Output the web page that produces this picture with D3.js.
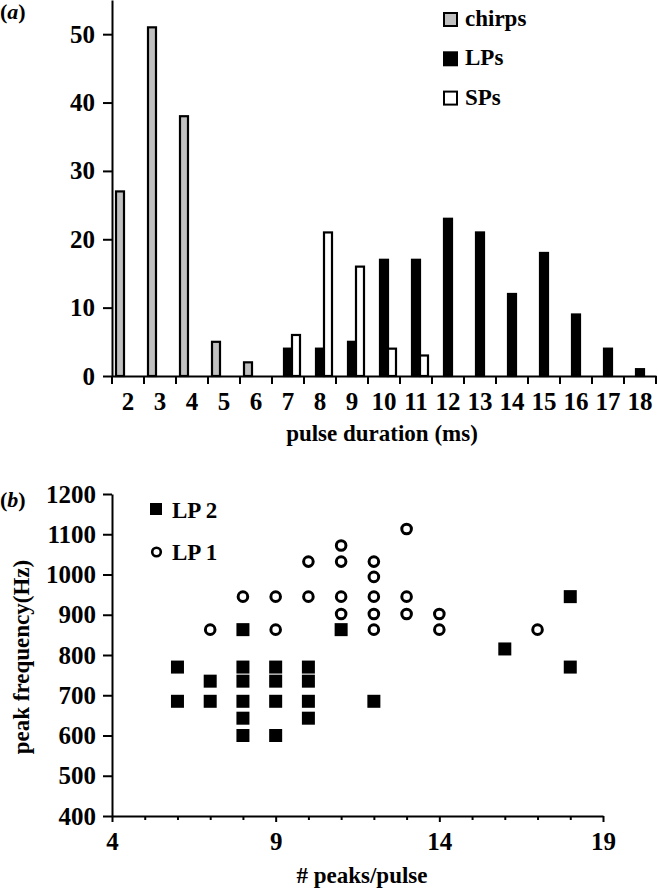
<!DOCTYPE html>
<html>
<head>
<meta charset="utf-8">
<script src="https://cdn.jsdelivr.net/npm/d3@7"></script>
<style>
  html, body { margin: 0; padding: 0; background: #fff; }
  svg text { font-family: "Liberation Serif", "Times New Roman", serif; font-weight: bold; fill: #000; }
  .axis path, .axis line { stroke: #000; stroke-width: 2; }
</style>
</head>
<body>
<script>
// panel (a): pulse duration histogram
const durations = [2, 3, 4, 5, 6, 7, 8, 9, 10, 11, 12, 13, 14, 15, 16, 17, 18];
const chirps = [27, 51, 38, 5, 2, 0, 0, 0, 0, 0, 0, 0, 0, 0, 0, 0, 0];
const lps = [0, 0, 0, 0, 0, 4, 4, 5, 17, 17, 23, 21, 12, 18, 9, 4, 1];
const sps = [0, 0, 0, 0, 0, 6, 21, 16, 4, 3, 0, 0, 0, 0, 0, 0, 0];
const countTicks = [0, 10, 20, 30, 40, 50];

// panel (b): peak frequency vs number of peaks
const lp2Peaks = [6, 6, 7, 7, 8, 8, 8, 8, 8, 8, 9, 9, 9, 9, 10, 10, 10, 10, 11, 12, 16, 18, 18];
const lp2Freq = [770, 685, 735, 685, 863, 770, 735, 685, 643, 600, 770, 735, 685, 600, 770, 735, 685, 643, 863, 685, 815, 945, 770];
const lp1Peaks = [7, 8, 9, 9, 10, 10, 11, 11, 11, 11, 12, 12, 12, 12, 12, 13, 13, 13, 14, 14, 17];
const lp1Freq = [863, 945, 945, 863, 945, 1032, 1072, 1032, 945, 902, 1032, 994, 945, 902, 863, 1113, 945, 902, 902, 863, 863];
const freqTicks = [400, 500, 600, 700, 800, 900, 1000, 1100, 1200];
const peakLabels = [4, 9, 14, 19];

const W = 658;
const H = 892;
const FS = 23; // titles and legend
const TS = 25; // tick labels

const svg = d3.select('body').append('svg')
  .attr('width', W)
  .attr('height', H);

// ---------- (a) ----------
const series = [
  { key: 'chirps', values: chirps, fill: '#c0c0c0' },
  { key: 'LPs', values: lps, fill: '#000' },
  { key: 'SPs', values: sps, fill: '#fff' },
];

const x0 = d3.scaleBand().domain(durations).range([112, 656]);
const x1 = d3.scaleBand().domain(series.map((s) => s.key))
  .range([0, x0.bandwidth()])
  .paddingInner(0)
  .paddingOuter(0.5);
const yA = d3.scaleLinear().domain([0, 55]).range([376, 0]);

const bars = [];
series.forEach((s) => {
  s.values.forEach((v, i) => {
    if (v > 0) bars.push({ key: s.key, fill: s.fill, d: durations[i], v });
  });
});

svg.append('g').selectAll('rect')
  .data(bars)
  .enter()
  .append('rect')
  .attr('x', (b) => x0(b.d) + x1(b.key))
  .attr('y', (b) => yA(b.v))
  .attr('width', x1.bandwidth())
  .attr('height', (b) => yA(0) - yA(b.v))
  .attr('fill', (b) => b.fill)
  .attr('stroke', '#000')
  .attr('stroke-width', 2.2);

// y axis
const yAxisA = svg.append('g')
  .attr('class', 'axis')
  .attr('transform', `translate(${x0.range()[0]},0)`)
  .call(d3.axisLeft(yA).tickValues(countTicks).tickSize(9).tickSizeOuter(0).tickPadding(8));
yAxisA.selectAll('text').style('font-size', `${TS}px`);

// x axis: labels centred in bands, ticks on band edges
const xAxisA = svg.append('g')
  .attr('class', 'axis')
  .attr('transform', `translate(0,${yA(0)})`)
  .call(d3.axisBottom(x0).tickSize(0).tickPadding(16));
xAxisA.selectAll('text').style('font-size', `${TS}px`);
const edges = durations.map((d) => x0(d)).concat([x0.range()[1]]);
xAxisA.selectAll('.edge')
  .data(edges)
  .enter()
  .append('line')
  .attr('class', 'edge')
  .attr('x1', (e) => e)
  .attr('x2', (e) => e)
  .attr('y1', 0)
  .attr('y2', 8);

svg.append('text')
  .attr('x', 382)
  .attr('y', 441)
  .attr('text-anchor', 'middle')
  .style('font-size', `${FS}px`)
  .text('pulse duration (ms)');

const labA = svg.append('text').attr('x', 0).attr('y', 19).style('font-size', '22px');
labA.append('tspan').text('(');
labA.append('tspan').style('font-style', 'italic').text('a');
labA.append('tspan').text(')');

// legend (a)
const legA = svg.append('g').attr('transform', 'translate(444,13)');
series.forEach((s, i) => {
  const g = legA.append('g').attr('transform', `translate(0,${i * 39.3})`);
  g.append('rect')
    .attr('x', 0).attr('y', 0)
    .attr('width', 13).attr('height', 13)
    .attr('fill', s.fill)
    .attr('stroke', '#000')
    .attr('stroke-width', 2);
  g.append('text')
    .attr('x', 21)
    .attr('y', 13)
    .style('font-size', `${FS}px`)
    .text(s.key);
});

// ---------- (b) ----------
const xB = d3.scaleLinear().domain([4, 19]).range([112, 603]);
const yB = d3.scaleLinear().domain([400, 1200]).range([816, 494]);

const yAxisB = svg.append('g')
  .attr('class', 'axis')
  .attr('transform', `translate(${xB(4)},0)`)
  .call(d3.axisLeft(yB)
    .tickValues(freqTicks)
    .tickFormat(d3.format('d'))
    .tickSize(9)
    .tickSizeOuter(0)
    .tickPadding(7));
yAxisB.selectAll('text').style('font-size', `${TS}px`);

const xAxisB = svg.append('g')
  .attr('class', 'axis')
  .attr('transform', `translate(0,${yB(400)})`)
  .call(d3.axisBottom(xB)
    .tickValues(d3.range(4, 20))
    .tickSize(6)
    .tickSizeOuter(0)
    .tickPadding(10)
    .tickFormat((d) => (peakLabels.includes(d) ? d : '')));
xAxisB.selectAll('.tick')
  .filter((d) => !peakLabels.includes(d))
  .select('line')
  .attr('y2', 4);
xAxisB.selectAll('text').style('font-size', `${TS}px`);

const sq = 13;
svg.append('g').selectAll('rect')
  .data(lp2Peaks.map((p, i) => [p, lp2Freq[i]]))
  .enter()
  .append('rect')
  .attr('x', (d) => xB(d[0]) - sq / 2)
  .attr('y', (d) => yB(d[1]) - sq / 2)
  .attr('width', sq)
  .attr('height', sq)
  .attr('fill', '#000');

svg.append('g').selectAll('circle')
  .data(lp1Peaks.map((p, i) => [p, lp1Freq[i]]))
  .enter()
  .append('circle')
  .attr('cx', (d) => xB(d[0]))
  .attr('cy', (d) => yB(d[1]))
  .attr('r', 4.8)
  .attr('fill', '#fff')
  .attr('stroke', '#000')
  .attr('stroke-width', 3);

svg.append('text')
  .attr('transform', 'translate(29,657) rotate(-90)')
  .attr('text-anchor', 'middle')
  .style('font-size', `${FS}px`)
  .text('peak frequency(Hz)');

svg.append('text')
  .attr('x', 362)
  .attr('y', 883)
  .attr('text-anchor', 'middle')
  .style('font-size', `${FS}px`)
  .text('# peaks/pulse');

const labB = svg.append('text').attr('x', 0).attr('y', 507).style('font-size', '22px');
labB.append('tspan').text('(');
labB.append('tspan').style('font-style', 'italic').text('b');
labB.append('tspan').text(')');

// legend (b)
svg.append('rect')
  .attr('x', 150).attr('y', 503)
  .attr('width', 12).attr('height', 12)
  .attr('fill', '#000');
svg.append('text')
  .attr('x', 172).attr('y', 518)
  .style('font-size', `${FS}px`)
  .text('LP 2');
svg.append('circle')
  .attr('cx', 156.5).attr('cy', 552)
  .attr('r', 4.3)
  .attr('fill', '#fff')
  .attr('stroke', '#000')
  .attr('stroke-width', 2.6);
svg.append('text')
  .attr('x', 172).attr('y', 560)
  .style('font-size', `${FS}px`)
  .text('LP 1');
</script>
</body>
</html>
